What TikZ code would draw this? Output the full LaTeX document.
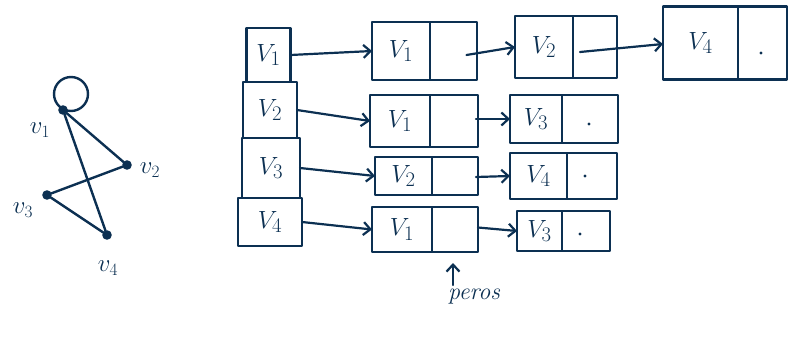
\documentclass[tikz,border=0pt]{standalone}
\usetikzlibrary{arrows.meta}
\definecolor{ink}{RGB}{12,48,82}
\begin{document}
\begin{tikzpicture}[x=1pt,y=-1pt, color=ink,
  line width=2.5pt, line cap=round, line join=round,
  cell/.style={draw=ink, line width=2.5pt, inner sep=0pt, outer sep=0pt, text=ink,
     font=\fontsize{30}{32}\selectfont},
  arr/.style={draw=ink, line width=2.2pt, -{Straight Barb[length=7pt,width=13pt,line width=2.2pt]}},
  gedge/.style={draw=ink, line width=2.4pt},
  vtx/.style={circle, fill=ink, draw=ink, inner sep=0pt, minimum size=7pt},
  glabel/.style={text=ink, font=\fontsize{24}{26}\selectfont},
  pdot/.style={circle, fill=ink, inner sep=0pt, minimum size=3.2pt}]
\useasboundingbox (0,0) rectangle (800,337);

% ---- graph ----
\node[vtx] (g1) at (63,110) {};
\node[vtx] (g2) at (127,165) {};
\node[vtx] (g3) at (47,195) {};
\node[vtx] (g4) at (107,235) {};
\draw[gedge] ([shift={(8,-16)}]g1.center) circle[radius=17];
\draw[gedge] (g1) -- (g2);
\draw[gedge] (g1) -- (g4);
\draw[gedge] (g2) -- (g3);
\draw[gedge] (g3) -- (g4);
\node[glabel] (l1) at (40,130) {$v_1$};
\node[glabel] (l2) at (150,170) {$v_2$};
\node[glabel] (l3) at (23,210) {$v_3$};
\node[glabel] (l4) at (108,268) {$v_4$};

% ---- head column ----
\node[cell, minimum width=44pt, minimum height=54pt] (h1) at (268.5,55) {$V_1$};
\node[cell, minimum width=54pt, minimum height=56pt] (h2) at (270,110) {$V_2$};
\node[cell, minimum width=58pt, minimum height=60pt] (h3) at (271,168) {$V_3$};
\node[cell, minimum width=64pt, minimum height=48pt] (h4) at (270,222) {$V_4$};

% ---- row 1 ----
\node[cell, minimum width=58pt, minimum height=58pt] (a1) at (401,51) {$V_1$};
\node[cell, minimum width=47pt, minimum height=58pt, anchor=west] (a1p) at (a1.east) {};
\node[cell, minimum width=58pt, minimum height=62pt] (b1) at (544,47) {$V_2$};
\node[cell, minimum width=44pt, minimum height=62pt, anchor=west] (b1p) at (b1.east) {};
\node[cell, minimum width=75pt, minimum height=73pt] (c1) at (700.5,43) {$V_4$};
\node[cell, minimum width=49pt, minimum height=73pt, anchor=west] (c1p) at (c1.east) {};
\node[pdot] (d1) at (761,53) {};

% ---- row 2 ----
\node[cell, minimum width=60pt, minimum height=52pt] (a2) at (400,121) {$V_1$};
\node[cell, minimum width=48pt, minimum height=52pt, anchor=west] (a2p) at (a2.east) {};
\node[cell, minimum width=52pt, minimum height=48pt] (b2) at (536,119) {$V_3$};
\node[cell, minimum width=56pt, minimum height=48pt, anchor=west] (b2p) at (b2.east) {};
\node[pdot] (d2) at (589,124) {};

% ---- row 3 ----
\node[cell, minimum width=57pt, minimum height=38pt] (a3) at (403.5,176) {$V_2$};
\node[cell, minimum width=46pt, minimum height=38pt, anchor=west] (a3p) at (a3.east) {};
\node[cell, minimum width=57pt, minimum height=46pt] (b3) at (538.5,176) {$V_4$};
\node[cell, minimum width=50pt, minimum height=46pt, anchor=west] (b3p) at (b3.east) {};
\node[pdot] (d3) at (585,176) {};

% ---- row 4 ----
\node[cell, minimum width=60pt, minimum height=45pt] (a4) at (402,229.5) {$V_1$};
\node[cell, minimum width=46pt, minimum height=45pt, anchor=west] (a4p) at (a4.east) {};
\node[cell, minimum width=45pt, minimum height=40pt] (b4) at (539.5,231) {$V_3$};
\node[cell, minimum width=48pt, minimum height=40pt, anchor=west] (b4p) at (b4.east) {};
\node[pdot] (d4) at (580,234) {};

% ---- arrows ----
\draw[arr] (h1.east) -- (a1.west);
\draw[arr] (h2.east) -- (a2.west);
\draw[arr] (h3.east) -- (a3.west);
\draw[arr] (h4.east) -- (a4.west);
\draw[arr] ([xshift=13pt,yshift=-4pt]a1p.center) -- (b1.west);
\draw[arr] ([xshift=22pt,yshift=2pt]a2p.center) -- (b2.west |- b2p.center);
\draw[arr] ([xshift=21pt,yshift=-1pt]a3p.center) -- (b3.west);
\draw[arr] ([xshift=23pt,yshift=2pt]a4p.center) -- (b4.west);
\draw[arr] ([xshift=-15pt,yshift=-5pt]b1p.center) -- ([yshift=-1pt]c1.west);

% ---- pointer label ----
\coordinate (ptip) at (453,263);
\node[text=ink, font=\fontsize{24}{26}\selectfont\itshape] (plab) at (474,297) {peros};
\draw[arr] (453,285) -- (ptip);
\end{tikzpicture}
\end{document}
